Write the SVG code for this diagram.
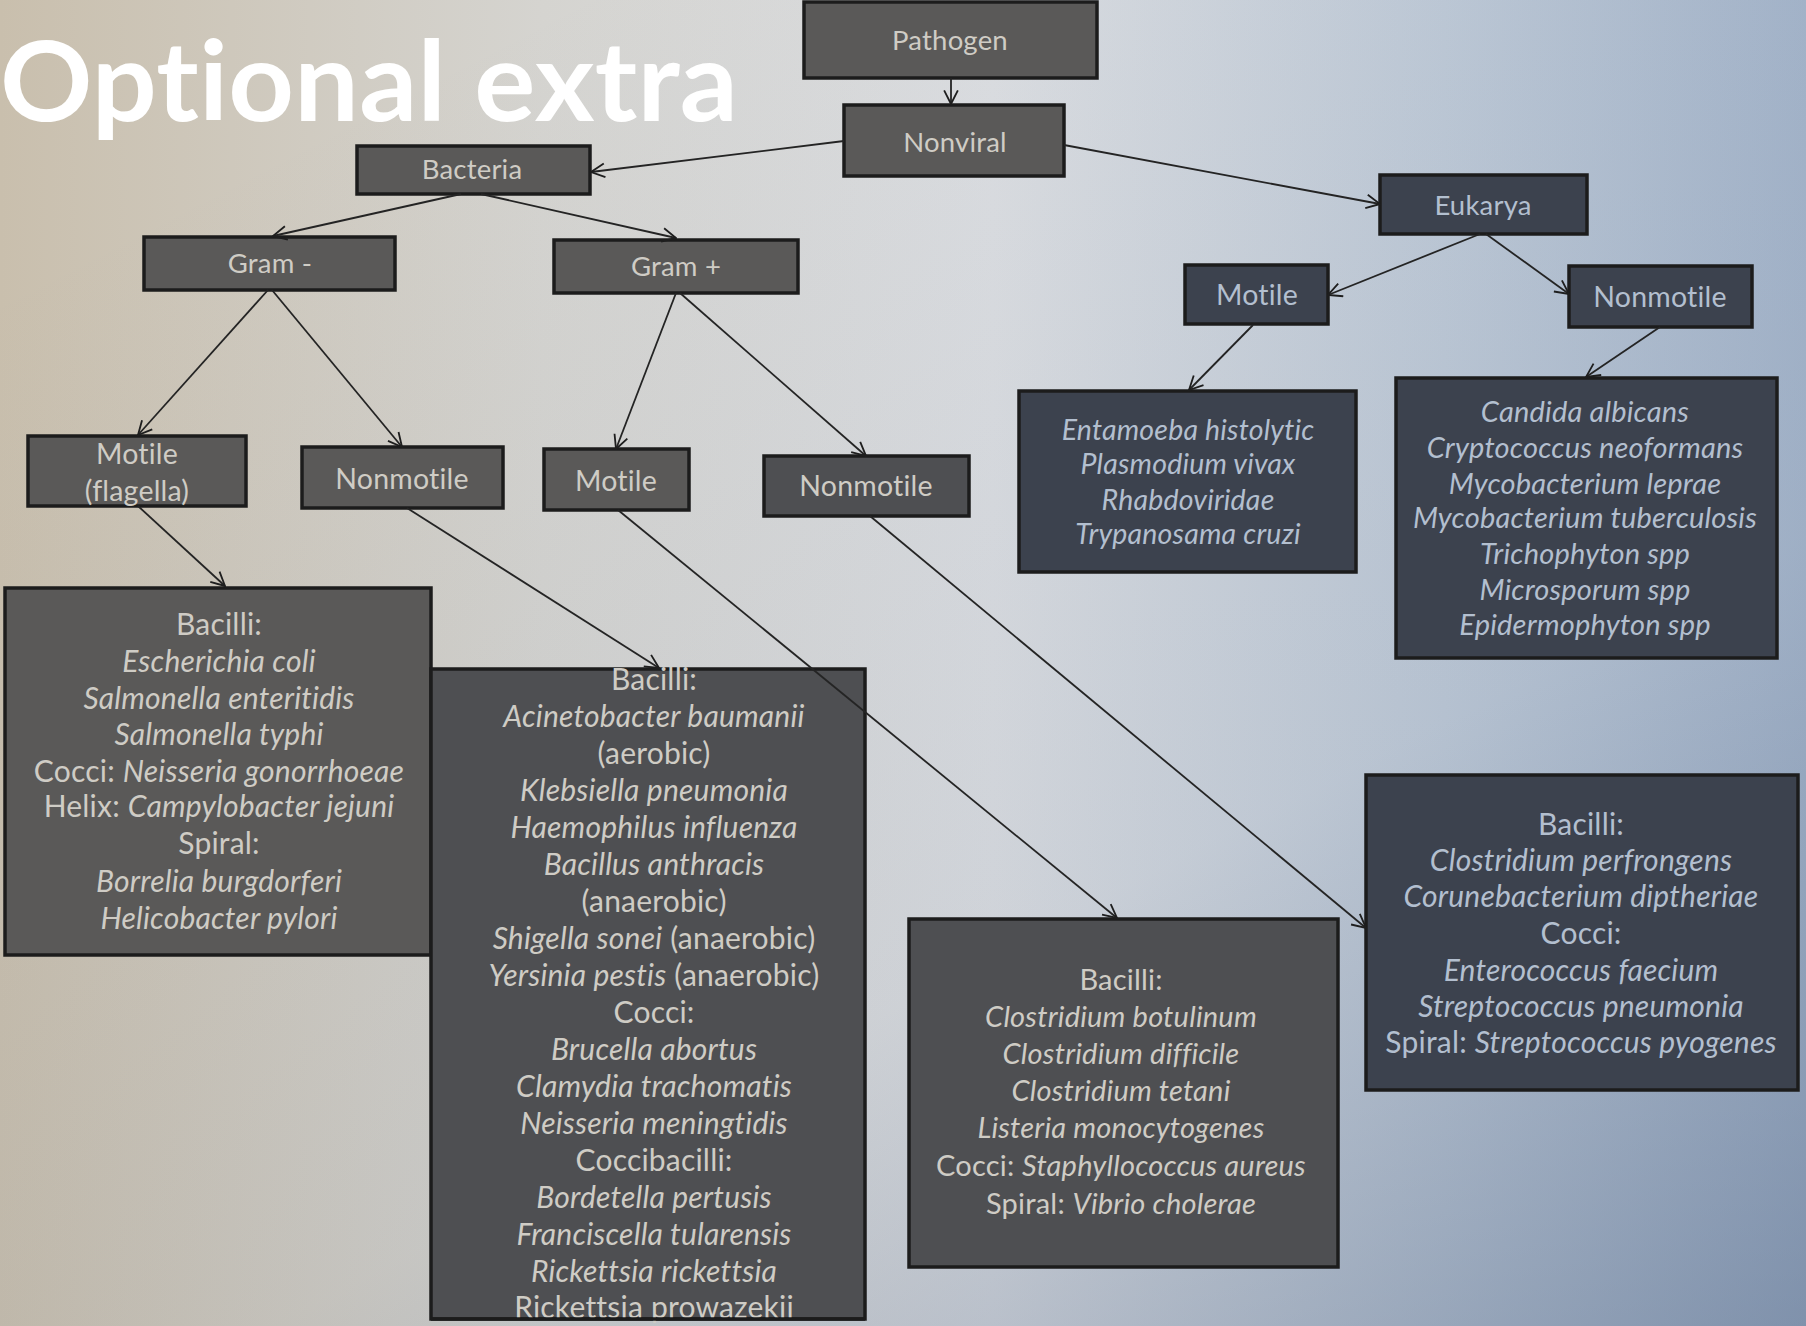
<svg xmlns="http://www.w3.org/2000/svg" width="1806" height="1326" viewBox="0 0 1806 1326">
<defs>
<linearGradient id="bg" x1="0" y1="0" x2="1" y2="0">
<stop offset="0" stop-color="#c9bfad"/>
<stop offset="0.3" stop-color="#d5d4d0"/>
<stop offset="0.55" stop-color="#dcdee1"/>
<stop offset="0.8" stop-color="#bfcad7"/>
<stop offset="1" stop-color="#a6b6cb"/>
</linearGradient>
<linearGradient id="shade" x1="0.3" y1="0" x2="1" y2="1">
<stop offset="0" stop-color="#5a6f90" stop-opacity="0"/>
<stop offset="0.6" stop-color="#5a6f90" stop-opacity="0.1"/>
<stop offset="1" stop-color="#4a5f80" stop-opacity="0.42"/>
</linearGradient>
<marker id="arr" viewBox="0 0 14 14" refX="13" refY="7" markerWidth="16" markerHeight="16" markerUnits="userSpaceOnUse" orient="auto">
<path d="M1,1 L13,7 L1,13" fill="none" stroke="#1e1e1e" stroke-width="1.6"/>
</marker>
<style>
text{font-variant-ligatures:none;font-feature-settings:"liga" 0,"clig" 0,"dlig" 0;letter-spacing:0.2px}
.box{stroke:#1c1c1c;stroke-width:3.5}
.l{fill:#5a5958}
.m{fill:#4e4f52}
.r{fill:#3c424e}
.t{font-family:Lato,"Liberation Sans",sans-serif;font-size:27.5px;text-anchor:middle;fill:#cfccc5}
.f30{font-size:30px}
.f29{font-size:29px}
.f285{font-size:28.5px}
.tr{fill:#b3bfcf}
.it{font-style:italic}
.c{stroke:#242424;stroke-width:1.8;fill:none;marker-end:url(#arr)}
</style>
</defs>
<rect width="1806" height="1326" fill="url(#bg)"/>
<rect width="1806" height="1326" fill="url(#shade)"/>
<text x="0" y="121" font-family="Lato,'Liberation Sans',sans-serif" font-weight="bold" font-size="112" fill="#ffffff" textLength="738" lengthAdjust="spacingAndGlyphs">Optional extra</text>

<g id="pathogen"><rect class="box l" x="804" y="2" width="293" height="76"/><text class="t" x="950" y="50">Pathogen</text></g>
<g id="nonviral"><rect class="box l" x="844" y="105" width="220" height="71"/><text class="t" x="955" y="152">Nonviral</text></g>
<g id="bacteria"><rect class="box l" x="357" y="146" width="233" height="48"/><text class="t" x="472" y="179">Bacteria</text></g>
<g id="eukarya"><rect class="box r" x="1380" y="175" width="207" height="59"/><text class="t tr" x="1483" y="215">Eukarya</text></g>
<g id="gram-neg"><rect class="box l" x="144" y="237" width="251" height="53"/><text class="t" x="270" y="273">Gram -</text></g>
<g id="gram-pos"><rect class="box l" x="554" y="240" width="244" height="53"/><text class="t" x="676" y="276">Gram +</text></g>
<g id="euk-motile"><rect class="box r" x="1185" y="265" width="143" height="59"/><text class="t tr f285" x="1257" y="305">Motile</text></g>
<g id="euk-nonmotile"><rect class="box r" x="1569" y="266" width="183" height="61"/><text class="t tr f285" x="1660" y="307">Nonmotile</text></g>
<g id="gneg-motile"><rect class="box l" x="28" y="436" width="218" height="70"/><text class="t f285" x="137" y="464">Motile</text><text class="t f285" x="137" y="501">(flagella)</text></g>
<g id="gneg-nonmotile"><rect class="box l" x="302" y="447" width="201" height="61"/><text class="t f285" x="402" y="489">Nonmotile</text></g>
<g id="gpos-motile"><rect class="box l" x="544" y="449" width="145" height="61"/><text class="t f285" x="616" y="491">Motile</text></g>
<g id="gpos-nonmotile"><rect class="box m" x="764" y="456" width="205" height="60"/><text class="t f285" x="866" y="496">Nonmotile</text></g>

<g id="euk-motile-list"><rect class="box r" x="1019" y="391" width="337" height="181"/>
<text class="t tr it f285" x="1188" y="440">Entamoeba histolytic</text>
<text class="t tr it f285" x="1188" y="474">Plasmodium vivax</text>
<text class="t tr it f285" x="1188" y="510">Rhabdoviridae</text>
<text class="t tr it f285" x="1188" y="544">Trypanosama cruzi</text>
</g>
<g id="euk-nonmotile-list"><rect class="box r" x="1396" y="378" width="381" height="280"/>
<text class="t tr it f29" x="1585" y="422">Candida albicans</text>
<text class="t tr it f29" x="1585" y="458">Cryptococcus neoformans</text>
<text class="t tr it f29" x="1585" y="494">Mycobacterium leprae</text>
<text class="t tr it f29" x="1585" y="528">Mycobacterium tuberculosis</text>
<text class="t tr it f29" x="1585" y="564">Trichophyton spp</text>
<text class="t tr it f29" x="1585" y="600">Microsporum spp</text>
<text class="t tr it f29" x="1585" y="635">Epidermophyton spp</text>
</g>
<g id="gneg-motile-list"><rect class="box l" x="5" y="588" width="426" height="367"/>
<text class="t f30" x="219" y="635">Bacilli:</text>
<text class="t it f30" x="219" y="672">Escherichia coli</text>
<text class="t it f30" x="219" y="709">Salmonella enteritidis</text>
<text class="t it f30" x="219" y="745">Salmonella typhi</text>
<text class="t f30" x="219" y="782">Cocci: <tspan class="it">Neisseria gonorrhoeae</tspan></text>
<text class="t f30" x="219" y="817">Helix: <tspan class="it">Campylobacter jejuni</tspan></text>
<text class="t f30" x="219" y="854">Spiral:</text>
<text class="t it f30" x="219" y="892">Borrelia burgdorferi</text>
<text class="t it f30" x="219" y="929">Helicobacter pylori</text>
</g>
<g id="gneg-nonmotile-list"><rect class="box m" x="431" y="669" width="434" height="650"/>
<text class="t f30" x="654" y="690">Bacilli:</text>
<text class="t it f30" x="654" y="727">Acinetobacter baumanii</text>
<text class="t f30" x="654" y="764">(aerobic)</text>
<text class="t it f30" x="654" y="801">Klebsiella pneumonia</text>
<text class="t it f30" x="654" y="838">Haemophilus influenza</text>
<text class="t it f30" x="654" y="875">Bacillus anthracis</text>
<text class="t f30" x="654" y="912">(anaerobic)</text>
<text class="t f30" x="654" y="949"><tspan class="it">Shigella sonei</tspan> (anaerobic)</text>
<text class="t f30" x="654" y="986"><tspan class="it">Yersinia pestis</tspan>  (anaerobic)</text>
<text class="t f30" x="654" y="1023">Cocci:</text>
<text class="t it f30" x="654" y="1060">Brucella abortus</text>
<text class="t it f30" x="654" y="1097">Clamydia trachomatis</text>
<text class="t it f30" x="654" y="1134">Neisseria meningtidis</text>
<text class="t f30" x="654" y="1171">Coccibacilli:</text>
<text class="t it f30" x="654" y="1208">Bordetella pertusis</text>
<text class="t it f30" x="654" y="1245">Franciscella tularensis</text>
<text class="t it f30" x="654" y="1282">Rickettsia rickettsia</text>
<text class="t f30" x="654" y="1318">Rickettsia prowazekii</text>
<line x1="431" y1="1319" x2="865" y2="1319" stroke="#1c1c1c" stroke-width="3.5"/>
</g>
<g id="gpos-motile-list"><rect class="box m" x="909" y="919" width="429" height="348"/>
<text class="t f29" x="1121" y="990">Bacilli:</text>
<text class="t it f29" x="1121" y="1027">Clostridium botulinum</text>
<text class="t it f29" x="1121" y="1064">Clostridium difficile</text>
<text class="t it f29" x="1121" y="1101">Clostridium tetani</text>
<text class="t it f29" x="1121" y="1138">Listeria monocytogenes</text>
<text class="t f29" x="1121" y="1176">Cocci: <tspan class="it">Staphyllococcus aureus</tspan></text>
<text class="t f29" x="1121" y="1214">Spiral: <tspan class="it">Vibrio cholerae</tspan></text>
</g>
<g id="gpos-nonmotile-list"><rect class="box r" x="1366" y="775" width="432" height="315"/>
<text class="t tr f30" x="1581" y="835">Bacilli:</text>
<text class="t tr it f30" x="1581" y="871">Clostridium perfrongens</text>
<text class="t tr it f30" x="1581" y="907">Corunebacterium diptheriae</text>
<text class="t tr f30" x="1581" y="944">Cocci:</text>
<text class="t tr it f30" x="1581" y="981">Enterococcus faecium</text>
<text class="t tr it f30" x="1581" y="1017">Streptococcus pneumonia</text>
<text class="t tr f30" x="1581" y="1053">Spiral: <tspan class="it">Streptococcus pyogenes</tspan></text>
</g>

<g id="connectors">
<line class="c" x1="951" y1="78" x2="951" y2="104"/>
<line class="c" x1="844" y1="141" x2="591" y2="172"/>
<line class="c" x1="1064" y1="145" x2="1380" y2="204"/>
<line class="c" x1="461" y1="194" x2="273" y2="236"/>
<line class="c" x1="481" y1="194" x2="676" y2="238"/>
<line class="c" x1="1480" y1="234" x2="1328" y2="295"/>
<line class="c" x1="1486" y1="234" x2="1569" y2="294"/>
<line class="c" x1="268" y1="290" x2="138" y2="435"/>
<line class="c" x1="272" y1="290" x2="402" y2="447"/>
<line class="c" x1="676" y1="293" x2="616" y2="449"/>
<line class="c" x1="680" y1="293" x2="866" y2="456"/>
<line class="c" x1="1253" y1="325" x2="1189" y2="390"/>
<line class="c" x1="1660" y1="327" x2="1586" y2="377"/>
<line class="c" x1="138" y1="506" x2="225" y2="586"/>
<line class="c" x1="407" y1="508" x2="659" y2="668"/>
<line class="c" x1="618" y1="510" x2="1117" y2="918"/>
<line class="c" x1="870" y1="516" x2="1366" y2="928"/>
</g>
</svg>
